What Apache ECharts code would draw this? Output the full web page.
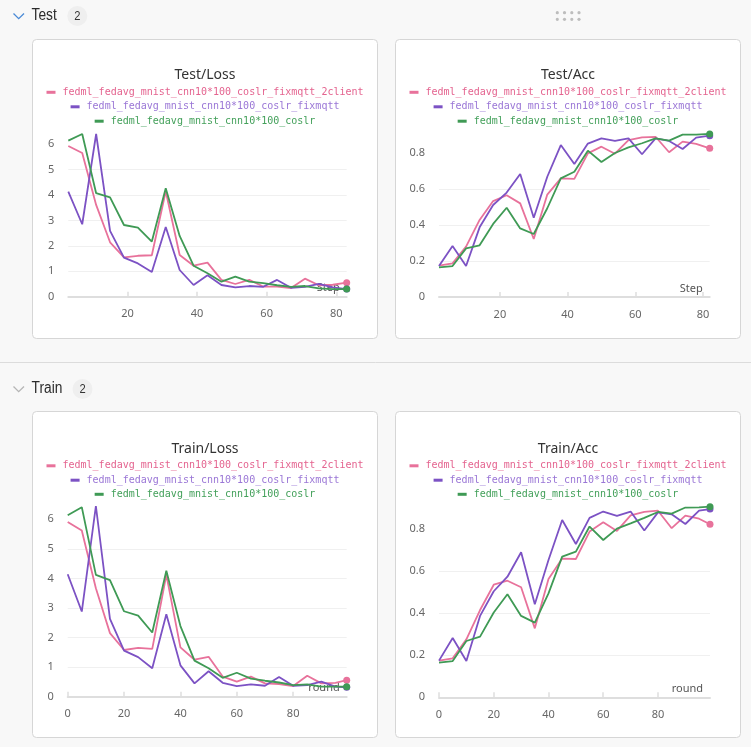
<!DOCTYPE html>
<html><head><meta charset="utf-8">
<script src="https://cdn.jsdelivr.net/npm/echarts@6/dist/echarts.min.js"></script>
<style>html,body{margin:0;padding:0;background:#f8f8f8;}#c{width:751px;height:747px;}</style>
</head><body><div id="c"></div><script>
// ---- data ----
const seriesNames = [
  'fedml_fedavg_mnist_cnn10*100_coslr_fixmqtt_2client',
  'fedml_fedavg_mnist_cnn10*100_coslr_fixmqtt',
  'fedml_fedavg_mnist_cnn10*100_coslr'
];
const chartTitles = ['Test/Loss', 'Test/Acc', 'Train/Loss', 'Train/Acc'];
const sectionNames = ['Test', 'Train'];
const sectionCounts = ['2', '2'];
const axisNames = ['Step', 'Step', 'round', 'round'];

const testLossStep = [3,7,11,15,19,23,27,31,35,39,43,47,51,55,59,63,67,71,75,79,83];
const testAccStep = [2,6,10,14,18,22,26,30,34,38,42,46,50,54,58,62,66,70,74,78,82];
const trainRound = [0,5,10,15,20,25,30,35,40,45,50,55,60,65,70,75,80,85,90,95,99];

const testLoss2client = [5.93,5.65,3.61,2.14,1.55,1.61,1.63,4.15,1.64,1.22,1.34,0.66,0.50,0.66,0.40,0.40,0.34,0.71,0.45,0.47,0.55];
const testLossFixmqtt = [4.13,2.85,6.40,2.59,1.54,1.31,0.97,2.74,1.05,0.46,0.84,0.46,0.37,0.42,0.39,0.66,0.35,0.39,0.50,0.37,0.30];
const testLossCoslr   = [6.14,6.40,4.07,3.91,2.82,2.72,2.17,4.27,2.39,1.22,0.92,0.59,0.79,0.59,0.53,0.45,0.39,0.42,0.33,0.30,0.30];

const testAcc2client = [0.174,0.187,0.28,0.428,0.533,0.565,0.52,0.322,0.569,0.659,0.656,0.798,0.835,0.796,0.872,0.887,0.89,0.804,0.863,0.85,0.826];
const testAccFixmqtt = [0.172,0.283,0.172,0.387,0.511,0.58,0.683,0.44,0.668,0.844,0.739,0.852,0.881,0.867,0.881,0.793,0.881,0.867,0.822,0.885,0.896];
const testAccCoslr   = [0.165,0.172,0.27,0.287,0.406,0.496,0.381,0.35,0.493,0.659,0.696,0.813,0.75,0.8,0.831,0.854,0.881,0.869,0.902,0.902,0.906];

const trainLoss2client = [5.91,5.62,3.67,2.15,1.58,1.65,1.62,4.12,1.67,1.25,1.35,0.68,0.51,0.68,0.45,0.43,0.36,0.71,0.45,0.47,0.56];
const trainLossFixmqtt = [4.14,2.88,6.45,2.63,1.56,1.34,0.96,2.79,1.06,0.45,0.86,0.47,0.36,0.42,0.37,0.67,0.37,0.39,0.51,0.34,0.32];
const trainLossCoslr   = [6.14,6.41,4.12,3.94,2.89,2.74,2.17,4.26,2.39,1.22,0.96,0.64,0.81,0.61,0.54,0.48,0.39,0.42,0.34,0.34,0.34];

const trainAcc2client = [0.174,0.185,0.275,0.414,0.534,0.553,0.522,0.327,0.561,0.658,0.656,0.786,0.83,0.789,0.863,0.879,0.885,0.802,0.862,0.847,0.821];
const trainAccFixmqtt = [0.174,0.281,0.172,0.386,0.503,0.572,0.688,0.441,0.651,0.841,0.727,0.851,0.881,0.86,0.881,0.791,0.877,0.868,0.822,0.885,0.893];
const trainAccCoslr   = [0.164,0.172,0.267,0.288,0.402,0.489,0.386,0.354,0.493,0.667,0.691,0.81,0.746,0.8,0.825,0.851,0.879,0.871,0.9,0.901,0.904];

const lossTicks = [0,1,2,3,4,5,6];
const accTicks = [0,0.2,0.4,0.6,0.8];
const testXTicks = [20,40,60,80];
const trainXTicks = [0,20,40,60,80];

// ---- styles / layout ----
const lineColors = ['#e8729b', '#7c52c4', '#3f9a55'];
const textColors = ['#e4638f', '#9a76d6', '#43a05a'];
const mono = '"DejaVu Sans Mono", "Liberation Mono", monospace';
const sans = '"Noto Sans", "Open Sans", sans-serif';
const narrow = '"Liberation Sans Narrow", "Arial Narrow", "Liberation Sans", sans-serif';

const charts = [
  {xs: testLossStep, ys: [testLoss2client, testLossFixmqtt, testLossCoslr], yTicks: lossTicks, xTicks: testXTicks,
   xMin: 3, xMax: 83, grid: {left: 68.3, top: 134, width: 278.4, height: 162.7},
   panel: [32.5, 39.5, 345, 299], titleY: 75, legendY: [92.3, 106.8, 121.2]},
  {xs: testAccStep, ys: [testAcc2client, testAccFixmqtt, testAccCoslr], yTicks: accTicks, xTicks: testXTicks,
   xMin: 2, xMax: 82, grid: {left: 439, top: 133.9, width: 270.7, height: 163.1},
   panel: [395.5, 39.5, 345, 299], titleY: 75, legendY: [92.3, 106.8, 121.2]},
  {xs: trainRound, ys: [trainLoss2client, trainLossFixmqtt, trainLossCoslr], yTicks: lossTicks, xTicks: trainXTicks,
   xMin: 0, xMax: 99, grid: {left: 67.7, top: 506, width: 279, height: 190.7},
   panel: [32.5, 411.5, 345, 326], titleY: 449, legendY: [465.8, 480.2, 494.3]},
  {xs: trainRound, ys: [trainAcc2client, trainAccFixmqtt, trainAccCoslr], yTicks: accTicks, xTicks: trainXTicks,
   xMin: 0, xMax: 99, grid: {left: 439, top: 506.7, width: 271, height: 190.6},
   panel: [395.5, 411.5, 345, 326], titleY: 449, legendY: [465.8, 480.2, 494.3]}
];

const grids = [], xAxes = [], yAxes = [], series = [], legends = [], graphics = [];

graphics.push({type: 'rect', shape: {x: 0, y: 0, width: 751, height: 747}, style: {fill: '#f8f8f8'}, z: -20, silent: true});
graphics.push({type: 'line', shape: {x1: 0, y1: 362.5, x2: 751, y2: 362.5}, style: {stroke: '#dcdcdc', lineWidth: 1}, z: -19, silent: true});

// section headers
const headerY = [16, 389];
const badgeX = [77.3, 82.5];
const chevronColors = ['#4a8ad6', '#b5b5b5'];
sectionNames.forEach((s, i) => {
  const y = headerY[i];
  graphics.push({type: 'polyline', shape: {points: [[13.5, y - 2.5], [18.7, y + 2.7], [24, y - 2.5]]},
    style: {stroke: chevronColors[i], lineWidth: 1.3, fill: null}, z: -18, silent: true});
  graphics.push({type: 'text', x: 31.5, y: y, scaleX: 0.86, style: {text: s, fontSize: 16, fontFamily: narrow, fill: '#2b2b2b', verticalAlign: 'middle', align: 'left'}, z: -18, silent: true});
  graphics.push({type: 'circle', shape: {cx: badgeX[i], cy: y, r: 10}, style: {fill: '#efefef'}, z: -18, silent: true});
  graphics.push({type: 'text', x: badgeX[i], y: y + 0.5, scaleX: 0.86, style: {text: sectionCounts[i], fontSize: 13, fontFamily: narrow, fill: '#333', verticalAlign: 'middle', align: 'center'}, z: -17, silent: true});
});
// drag handle dots
[557.3, 564.5, 571.8, 579].forEach(x => [12.7, 19.3].forEach(y => {
  graphics.push({type: 'circle', shape: {cx: x, cy: y, r: 1.6}, style: {fill: '#bdbdbd'}, z: -18, silent: true});
}));

charts.forEach((c, i) => {
  const [px, py, pw, ph] = c.panel;
  const cx = px + pw / 2;
  graphics.push({type: 'rect', shape: {x: px, y: py, width: pw, height: ph, r: 4},
    style: {fill: '#ffffff', stroke: '#d6d6d6', lineWidth: 1}, z: -15, silent: true});
  graphics.push({type: 'text', x: cx, y: c.titleY, style: {text: chartTitles[i], fontSize: 14, fontFamily: sans, fill: '#333', align: 'center', verticalAlign: 'middle'}, z: 5, silent: true});

  grids.push(Object.assign({outerBoundsMode: 'none', containLabel: false}, c.grid));

  xAxes.push({
    type: 'value', gridIndex: i, min: c.xMin, max: c.xMax,
    name: axisNames[i], nameLocation: 'end', nameGap: -7,
    nameTextStyle: {color: '#555', fontSize: 11, fontFamily: sans, align: 'right', verticalAlign: 'bottom', padding: [0, 0, 3, 0]},
    axisLine: {show: true, onZero: false, lineStyle: {color: '#dedede', width: 2}},
    axisTick: {show: true, inside: true, length: 5, customValues: c.xTicks, lineStyle: {color: '#dedede', width: 1.5}},
    axisLabel: {customValues: c.xTicks, color: '#666', fontSize: 11, fontFamily: sans, margin: 12},
    splitLine: {show: false}
  });
  yAxes.push({
    type: 'value', gridIndex: i, min: 0, max: 'dataMax',
    axisLine: {show: false}, axisTick: {show: false, customValues: c.yTicks},
    axisLabel: {customValues: c.yTicks, color: '#666', fontSize: 11, fontFamily: sans, margin: 14},
    splitLine: {show: true, showMinLine: false, showMaxLine: false, lineStyle: {color: '#f0f0f0', width: 1}}
  });

  seriesNames.forEach((n, k) => {
    const ys = c.ys[k];
    const last = ys.length - 1;
    series.push({
      type: 'line', name: n, xAxisIndex: i, yAxisIndex: i,
      data: c.xs.map((x, j) => [x, ys[j]]),
      symbol: 'circle', showSymbol: true,
      symbolSize: (v, p) => (p.dataIndex === last ? 7 : 0),
      lineStyle: {color: lineColors[k], width: 1.8},
      itemStyle: {color: lineColors[k]},
      animation: false, silent: true, z: 2 + k
    });
    const w = 9 + 5 + 2 + n.length * 6.02;
    legends.push({
      data: [{name: n, textStyle: {color: textColors[k]}}],
      left: cx - w / 2, top: c.legendY[k] - 7,
      padding: 0, itemWidth: 9, itemHeight: 3, icon: 'rect', selectedMode: false,
      textStyle: {fontFamily: mono, fontSize: 10, lineHeight: 14, padding: [0, 0, 0, 2], color: textColors[k]}
    });
  });
});

const chart = echarts.init(document.getElementById('c'), null, {renderer: 'canvas'});
chart.setOption({
  backgroundColor: '#f8f8f8',
  animation: false,
  graphic: {elements: graphics},
  grid: grids, xAxis: xAxes, yAxis: yAxes, series: series, legend: legends
});
</script></body></html>
